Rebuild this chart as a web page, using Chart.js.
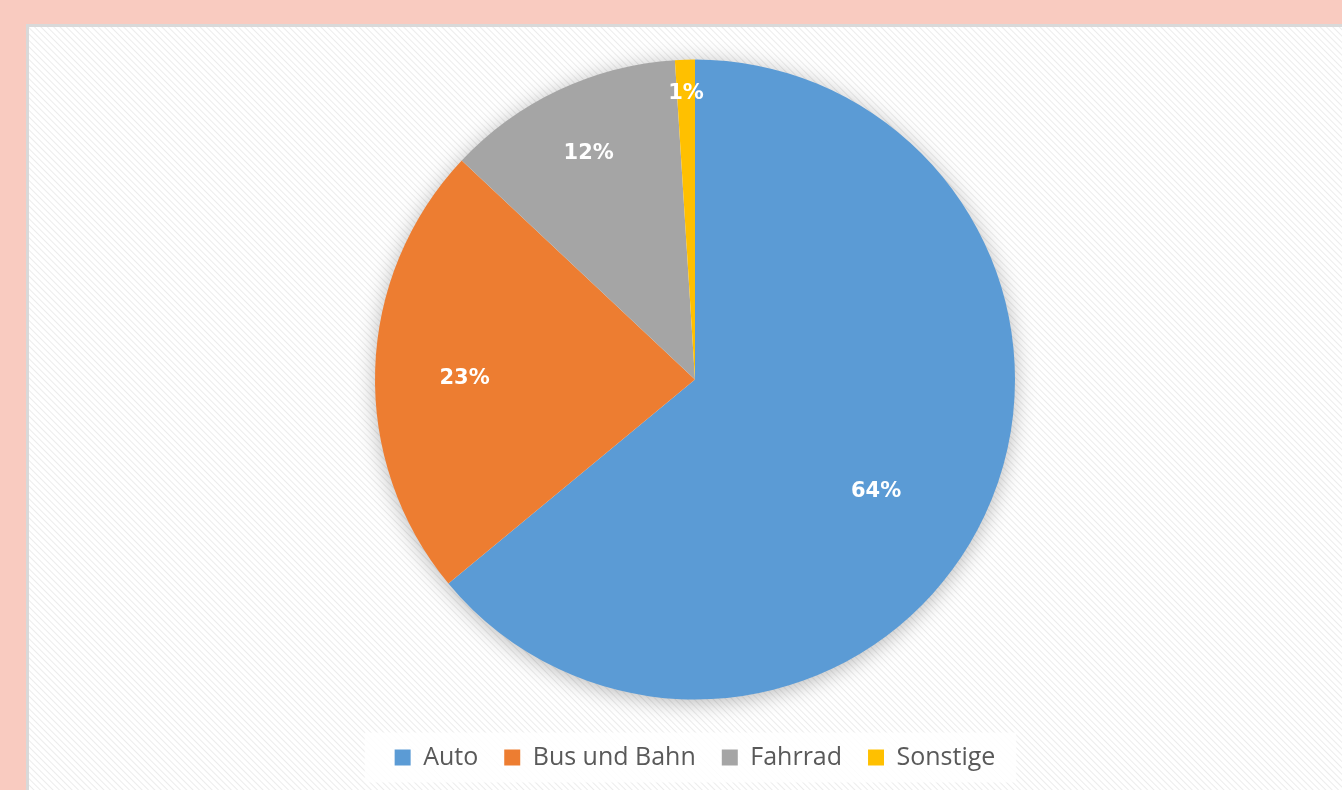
<!DOCTYPE html>
<html>
<head>
<meta charset="utf-8">
<script src="https://cdn.jsdelivr.net/npm/chart.js@4.4.1/dist/chart.umd.min.js"></script>
<style>
  html, body { margin: 0; padding: 0; }
  body { width: 1342px; height: 790px; background: #f9cbc0; position: relative; overflow: hidden; }
  #frame { position: absolute; left: 26px; top: 24px; width: 1316px; height: 766px; background: #d9d9d9; }
  #wrap { position: absolute; left: 29px; top: 27px; width: 1313px; height: 763px;
    background: repeating-linear-gradient(45deg, #ffffff 0px, #ffffff 2.5px, #ececec 3.5px, #ffffff 4.5px); }
  canvas { display: block; }
</style>
</head>
<body>
<div id="frame"></div>
<div id="wrap"><canvas id="c" width="1313" height="763"></canvas></div>
<script>
const categories = ["Auto", "Bus und Bahn", "Fahrrad", "Sonstige"];
const shares = [64, 23, 12, 1];
const sliceColors = ["#5b9bd5", "#ed7d31", "#a5a5a5", "#ffc000"];
const valueLabels = ["64%", "23%", "12%", "1%"];

// label placement (style): radial fraction and angular shift in degrees
const labelRadius = [0.665, 0.72, 0.78, 0.894];
const labelShiftDeg = [6.5, -1.6, 0, 0];

const shadowPlugin = {
  id: 'pieShadow',
  beforeDatasetsDraw(chart) {
    const arc = chart.getDatasetMeta(0).data[0];
    if (!arc) return;
    const ctx = chart.ctx;
    ctx.save();
    ctx.shadowColor = 'rgba(0,0,0,0.30)';
    ctx.shadowBlur = 22;
    ctx.shadowOffsetY = 3;
    ctx.fillStyle = '#ffffff';
    ctx.beginPath();
    ctx.arc(arc.x, arc.y, arc.outerRadius - 1, 0, Math.PI * 2);
    ctx.fill();
    ctx.restore();
  }
};

const legendBoxPlugin = {
  id: 'legendBox',
  beforeDraw(chart) {
    const lg = chart.legend;
    if (!lg || !lg.legendHitBoxes || !lg.legendHitBoxes.length) return;
    const hb = lg.legendHitBoxes;
    const x0 = hb[0].left - 30;
    const last = hb[hb.length - 1];
    const x1 = last.left + last.width + 21;
    const cy = hb[0].top + hb[0].height / 2;
    const ctx = chart.ctx;
    ctx.save();
    ctx.fillStyle = 'rgba(255,255,255,0.85)';
    ctx.fillRect(x0, cy - 25, x1 - x0, 50);
    ctx.restore();
  }
};

const valueLabelPlugin = {
  id: 'valueLabels',
  afterDatasetsDraw(chart) {
    const ctx = chart.ctx;
    const meta = chart.getDatasetMeta(0);
    ctx.save();
    ctx.fillStyle = '#ffffff';
    ctx.font = 'bold 21px "DejaVu Sans"';
    ctx.textAlign = 'center';
    ctx.textBaseline = 'middle';
    meta.data.forEach((arc, i) => {
      const mid = (arc.startAngle + arc.endAngle) / 2 + labelShiftDeg[i] * Math.PI / 180;
      const r = arc.outerRadius * labelRadius[i];
      ctx.fillText(valueLabels[i], arc.x + Math.cos(mid) * r, arc.y + Math.sin(mid) * r);
    });
    ctx.restore();
  }
};

new Chart(document.getElementById('c'), {
  type: 'pie',
  data: {
    labels: categories,
    datasets: [{
      data: shares,
      backgroundColor: sliceColors,
      borderWidth: 0
    }]
  },
  options: {
    responsive: false,
    animation: false,
    radius: 320,
    layout: { padding: { top: 13, left: 19, right: 0, bottom: 10 } },
    plugins: {
      tooltip: { enabled: false },
      legend: {
        position: 'bottom',
        labels: {
          boxWidth: 16,
          boxHeight: 16,
          padding: 26,
          color: '#595959',
          font: { family: '"Open Sans"', size: 25 }
        }
      }
    }
  },
  plugins: [shadowPlugin, legendBoxPlugin, valueLabelPlugin]
});
</script>
</body>
</html>
